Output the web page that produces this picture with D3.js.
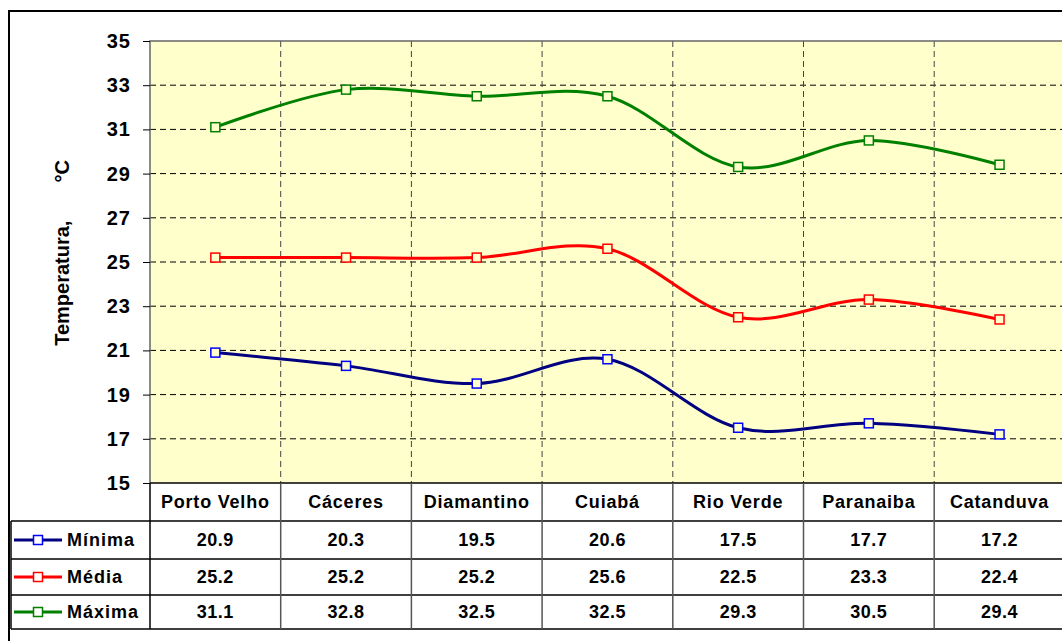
<!DOCTYPE html>
<html>
<head>
<meta charset="utf-8">
<script src="https://cdn.jsdelivr.net/npm/d3@7"></script>
<style>
  body { margin: 0; background: #fff; }
  svg { display: block; font-family: Arial, "Liberation Sans", sans-serif; }
  .tick text { font-weight: bold; }
</style>
</head>
<body>
<svg id="chart" width="1062" height="641"></svg>
<script>
var categories = ["Porto Velho", "Cáceres", "Diamantino", "Cuiabá", "Rio Verde", "Paranaiba", "Catanduva"];
var minima = [20.9, 20.3, 19.5, 20.6, 17.5, 17.7, 17.2];
var media = [25.2, 25.2, 25.2, 25.6, 22.5, 23.3, 22.4];
var maxima = [31.1, 32.8, 32.5, 32.5, 29.3, 30.5, 29.4];
var yTicks = [15, 17, 19, 21, 23, 25, 27, 29, 31, 33, 35];

var series = [
  { name: "Mínima", values: minima, line: "#000080", marker: "#0000FF" },
  { name: "Média", values: media, line: "#FF0000", marker: "#FF0000" },
  { name: "Máxima", values: maxima, line: "#008000", marker: "#008000" }
];

var plotLeft = 150, plotTop = 41, plotBottom = 483;
var colW = 130.7;
var plotRight = plotLeft + colW * categories.length;

var svg = d3.select("#chart");

// outer frame
svg.append("rect")
  .attr("x", 9).attr("y", 11)
  .attr("width", 1100).attr("height", 700)
  .attr("fill", "#fff")
  .attr("stroke", "#000").attr("stroke-width", 2);

var x = d3.scaleBand().domain(categories).range([plotLeft, plotRight]).padding(0);
var y = d3.scaleLinear().domain([15, 35]).range([plotBottom, plotTop]);

function cx(i) { return x(categories[i]) + x.bandwidth() / 2; }

// plot background
svg.append("rect")
  .attr("x", plotLeft).attr("y", plotTop)
  .attr("width", plotRight - plotLeft).attr("height", plotBottom - plotTop)
  .attr("fill", "#FFFFCC");

// horizontal grid
svg.append("g")
  .selectAll("line")
  .data(yTicks.filter(function(d) { return d > 15 && d < 35; }))
  .enter()
  .append("line")
  .attr("x1", plotLeft).attr("x2", plotRight)
  .attr("y1", function(d) { return y(d); })
  .attr("y2", function(d) { return y(d); })
  .attr("stroke", "#000")
  .attr("stroke-dasharray", "6,4");

// vertical grid
svg.append("g")
  .selectAll("line")
  .data(categories.slice(1))
  .enter()
  .append("line")
  .attr("x1", function(d) { return x(d); })
  .attr("x2", function(d) { return x(d); })
  .attr("y1", plotTop).attr("y2", plotBottom)
  .attr("stroke", "#444")
  .attr("stroke-dasharray", "6,4");

// plot border
svg.append("path")
  .attr("d", "M" + plotRight + "," + plotTop + "H" + plotLeft + "V" + plotBottom)
  .attr("fill", "none")
  .attr("stroke", "#666")
  .attr("stroke-width", 1.5);

// y axis
var leftAxis = d3.axisLeft(y).tickValues(yTicks).tickSize(7).tickPadding(12);
var yAxis = svg.append("g")
  .attr("transform", "translate(" + plotLeft + ",0)")
  .call(leftAxis);
yAxis.select(".domain").remove();
yAxis.selectAll(".tick line").attr("stroke", "#000");
yAxis.selectAll(".tick text")
  .attr("font-size", 20)
  .attr("letter-spacing", 1)
  .attr("fill", "#000");

var yLabel = svg.append("text")
  .attr("transform", "translate(69,253) rotate(-90)")
  .attr("text-anchor", "middle")
  .attr("font-size", 20)
  .attr("font-weight", "bold");
yLabel.append("tspan").text("Temperatura,");
yLabel.append("tspan").attr("dx", 38).text("°C");

// lines
var line = d3.line()
  .x(function(d, i) { return cx(i); })
  .y(function(d) { return y(d); })
  .curve(d3.curveCatmullRom.alpha(0));

series.forEach(function(s) {
  svg.append("path")
    .datum(s.values)
    .attr("d", line)
    .attr("fill", "none")
    .attr("stroke", s.line)
    .attr("stroke-width", 3);

  svg.append("g")
    .selectAll("rect")
    .data(s.values)
    .enter()
    .append("rect")
    .attr("x", function(d, i) { return cx(i) - 4.5; })
    .attr("y", function(d) { return y(d) - 4.5; })
    .attr("width", 9).attr("height", 9)
    .attr("fill", "#FFFFCC")
    .attr("stroke", s.marker)
    .attr("stroke-width", 1.5);
});

// data table
var rowTops = [483, 521, 559, 595, 629];
var tableLeft = 11;

var table = svg.append("g");

table.append("line")
  .attr("x1", plotLeft).attr("x2", 1062)
  .attr("y1", rowTops[0]).attr("y2", rowTops[0])
  .attr("stroke", "#000").attr("stroke-width", 1.5);

rowTops.slice(1).forEach(function(r) {
  table.append("line")
    .attr("x1", tableLeft).attr("x2", 1062)
    .attr("y1", r).attr("y2", r)
    .attr("stroke", "#000").attr("stroke-width", 1.5);
});

table.append("line")
  .attr("x1", tableLeft).attr("x2", tableLeft)
  .attr("y1", rowTops[1]).attr("y2", rowTops[4])
  .attr("stroke", "#000").attr("stroke-width", 1.5);

table.append("line")
  .attr("x1", plotLeft).attr("x2", plotLeft)
  .attr("y1", rowTops[0]).attr("y2", rowTops[4])
  .attr("stroke", "#000").attr("stroke-width", 1.5);

table.selectAll(".colsep")
  .data(categories.slice(1))
  .enter()
  .append("line")
  .attr("class", "colsep")
  .attr("x1", function(d) { return x(d); })
  .attr("x2", function(d) { return x(d); })
  .attr("y1", rowTops[0]).attr("y2", rowTops[4])
  .attr("stroke", "#555").attr("stroke-width", 1.5);

table.selectAll(".cat")
  .data(categories)
  .enter()
  .append("text")
  .attr("class", "cat")
  .attr("x", function(d) { return x(d) + x.bandwidth() / 2; })
  .attr("y", (rowTops[0] + rowTops[1]) / 2)
  .attr("dy", "0.36em")
  .attr("text-anchor", "middle")
  .attr("font-size", 18)
  .attr("font-weight", "bold")
  .attr("letter-spacing", 0.8)
  .text(function(d) { return d; });

series.forEach(function(s, si) {
  var mid = (rowTops[si + 1] + rowTops[si + 2]) / 2;

  table.append("line")
    .attr("x1", 14).attr("x2", 62)
    .attr("y1", mid).attr("y2", mid)
    .attr("stroke", s.line).attr("stroke-width", 3);
  table.append("rect")
    .attr("x", 33.5).attr("y", mid - 4.5)
    .attr("width", 9).attr("height", 9)
    .attr("fill", "#fff")
    .attr("stroke", s.marker).attr("stroke-width", 1.5);
  table.append("text")
    .attr("x", 67).attr("y", mid)
    .attr("dy", "0.36em")
    .attr("font-size", 18)
    .attr("font-weight", "bold")
    .attr("letter-spacing", 1)
    .text(s.name);

  table.selectAll(".v" + si)
    .data(s.values)
    .enter()
    .append("text")
    .attr("x", function(d, i) { return cx(i); })
    .attr("y", mid)
    .attr("dy", "0.36em")
    .attr("text-anchor", "middle")
    .attr("font-size", 18)
    .attr("font-weight", "bold")
    .attr("letter-spacing", 0.5)
    .text(function(d) { return d.toFixed(1); });
});
</script>
</body>
</html>
